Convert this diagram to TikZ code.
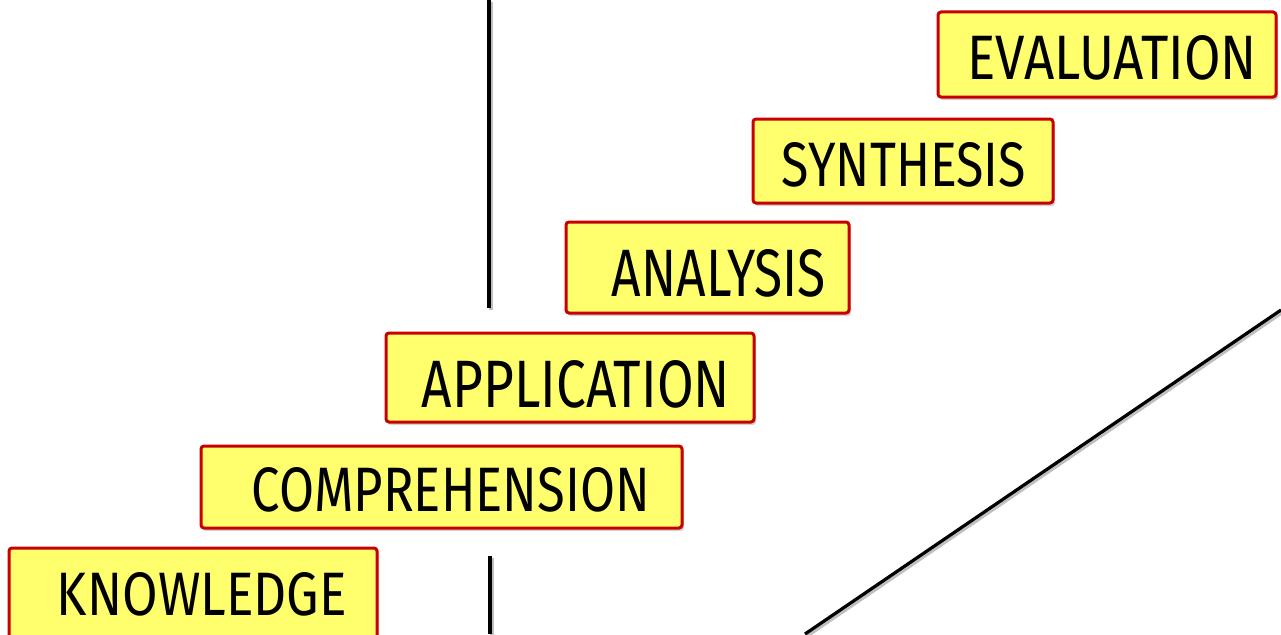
\documentclass[tikz,border=0pt]{standalone}
\usepackage{fontspec}
\setsansfont{Fira Sans}
\usetikzlibrary{shadows}
\definecolor{notefill}{HTML}{FFFF6E}
\definecolor{noteedge}{HTML}{C80000}
\tikzset{
  x=1pt, y=-1pt,
  note/.style={draw=noteedge, line width=3pt, fill=notefill, rounded corners=3pt,
    drop shadow={opacity=0.35, shadow xshift=2pt, shadow yshift=-3pt}},
  label text/.style={inner sep=0pt, anchor=center, text=black},
  axis line/.style={line width=3.2pt, black},
  axis shadow/.style={line width=3.5pt, black!25},
}
% scale a word to an exact width and cap height
\newcommand{\fitword}[3]{\resizebox{#1pt}{#2pt}{\sffamily #3}}
\begin{document}
\begin{tikzpicture}
\clip (0,0) rectangle (1281,634);
\fill[white] (0,0) rectangle (1281,634);

% axis lines
\coordinate (vtop) at (489,0);
\coordinate (vmid) at (489,308);
\coordinate (vlow) at (490,556);
\coordinate (vbot) at (490,634);
\coordinate (dlow) at (805,634);
\coordinate (dhigh) at (1281,310);
\draw[axis shadow] ([shift={(2,2)}]vtop) -- ([shift={(2,2)}]vmid);
\draw[axis shadow] ([shift={(2,2)}]vlow) -- ([shift={(2,2)}]vbot);
\draw[axis shadow] ([shift={(2,2)}]dlow) -- ([shift={(2,2)}]dhigh);
\draw[axis line] (vtop) -- (vmid);
\draw[axis line] (vlow) -- (vbot);
\draw[axis line] (dlow) -- (dhigh);

% boxes
\path[note] (938,12) rectangle (1276,97);
\path[note] (753,119) rectangle (1053,203);
\path[note] (566,222) rectangle (849,313);
\path[note] (386,333) rectangle (754,422);
\path[note] (201,446) rectangle (682,528);
\path[note] (9,548) rectangle (377,660);

% labels
\node[label text] (evaluation)    at (1112,58)  {\fitword{290}{44}{EVALUATION}};
\node[label text] (synthesis)     at (904,165)  {\fitword{244}{44}{SYNTHESIS}};
\node[label text] (analysis)      at (719,273)  {\fitword{214}{47}{ANALYSIS}};
\node[label text] (application)   at (576,384)  {\fitword{308}{47}{APPLICATION}};
\node[label text] (comprehension) at (451,490)  {\fitword{398}{44}{COMPREHENSION}};
\node[label text] (knowledge)     at (202,594)  {\fitword{290}{43}{KNOWLEDGE}};
\end{tikzpicture}
\end{document}
